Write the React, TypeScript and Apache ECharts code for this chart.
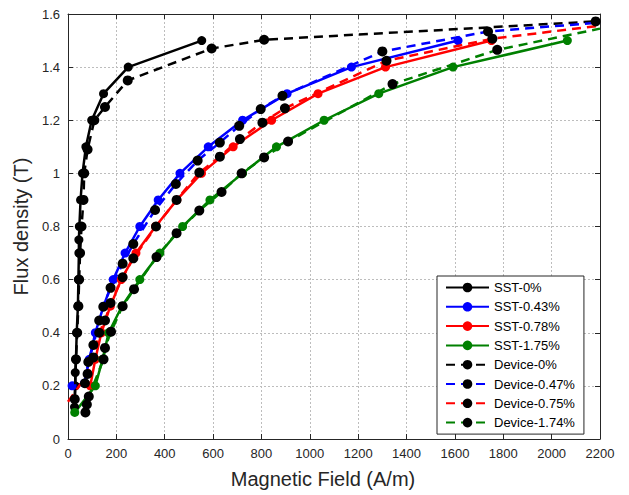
import React, { useEffect, useRef } from "react";
import * as echarts from "echarts";

// ---- data (H in A/m, B in T) ----
const sst0H = [27, 30, 30, 33, 36, 41, 43, 45, 45, 47, 52, 60, 74, 98, 147, 249, 553];
const sst0B = [0.12, 0.2, 0.25, 0.3, 0.4, 0.5, 0.6, 0.7, 0.75, 0.8, 0.9, 1.0, 1.1, 1.2, 1.3, 1.4, 1.5];

const sst043H = [17, 68, 88, 113, 147, 187, 236, 297, 373, 463, 580, 722, 906, 1172, 1613];
const sst043B = [0.2, 0.21, 0.3, 0.4, 0.5, 0.6, 0.7, 0.8, 0.9, 1.0, 1.1, 1.2, 1.3, 1.4, 1.5];

const sst078H = [92, 113, 138, 175, 220, 281, 362, 450, 552, 683, 842, 1034, 1313, 1751];
const sst078B = [0.2, 0.3, 0.4, 0.5, 0.6, 0.7, 0.8, 0.9, 1.0, 1.1, 1.2, 1.3, 1.4, 1.5];

const sst175H = [28, 113, 143, 168, 223, 297, 380, 474, 587, 722, 862, 1059, 1285, 1592, 2065];
const sst175B = [0.1, 0.2, 0.3, 0.4, 0.5, 0.6, 0.7, 0.8, 0.9, 1.0, 1.1, 1.2, 1.3, 1.4, 1.5];

const dev0H = [28, 33, 38, 43, 46, 50, 56, 64, 67, 81, 109, 153, 247, 594, 811, 2182];
const dev0B = [0.15, 0.3, 0.4, 0.5, 0.6, 0.7, 0.8, 0.9, 1.0, 1.09, 1.2, 1.25, 1.35, 1.47, 1.503, 1.572];

const dev047H = [70, 84, 105, 129, 146, 176, 226, 270, 360, 446, 536, 628, 708, 797, 887, 1300, 1737];
const dev047B = [0.21, 0.29, 0.354, 0.446, 0.498, 0.569, 0.66, 0.734, 0.862, 0.96, 1.048, 1.116, 1.179, 1.242, 1.292, 1.459, 1.534];
const dev047FitEnd = [2200, 1.568];

const dev075H = [81, 105, 129, 153, 176, 226, 270, 364, 449, 543, 628, 711, 804, 897, 1317, 1755];
const dev075B = [0.245, 0.307, 0.4, 0.446, 0.512, 0.609, 0.68, 0.8, 0.9, 1.003, 1.063, 1.129, 1.191, 1.245, 1.424, 1.507];
const dev075FitStart = [0, 0.14];
const dev075FitEnd = [2200, 1.556];

const dev174H = [72, 78, 86, 147, 153, 178, 226, 273, 366, 449, 543, 635, 718, 811, 910, 1342, 1775];
const dev174B = [0.1, 0.13, 0.16, 0.3, 0.343, 0.404, 0.5, 0.564, 0.685, 0.775, 0.86, 0.93, 1.0, 1.06, 1.12, 1.336, 1.465];
const dev174FitEnd = [2200, 1.545];

const seriesNames = [
  "SST-0%",
  "SST-0.43%",
  "SST-0.78%",
  "SST-1.75%",
  "Device-0%",
  "Device-0.47%",
  "Device-0.75%",
  "Device-1.74%",
];

const xMin = 0, xMax = 2200, xStep = 200;
const yMin = 0, yMax = 1.6, yStep = 0.2;

function pts(h: number[], b: number[]) {
  return h.map((x, i) => [x, b[i]]);
}
function fitPoint(p: number[]) {
  return { value: p, symbol: "none" };
}

const FONT = "Liberation Sans, Arial, Helvetica, sans-serif";
const AX = "#262626";

export default function App() {
  const ref = useRef<HTMLDivElement>(null);
  useEffect(() => {
    document.body.style.margin = "0";
    const chart = echarts.init(ref.current!, null, { renderer: "svg" });

    const solid = (name: string, color: string, data: any[]) => ({
      type: "line",
      name,
      data,
      symbol: "circle",
      symbolSize: 9,
      lineStyle: { color, width: 2.5 },
      itemStyle: { color },
      z: 2,
    });
    const dashed = (name: string, color: string, data: any[]) => ({
      type: "line",
      name,
      data,
      symbol: "circle",
      symbolSize: 10,
      lineStyle: { color, width: 2.5, type: [9, 6] },
      itemStyle: { color: "#000" },
      z: 3,
    });

    const baseX = {
      type: "value",
      min: xMin,
      max: xMax,
      interval: xStep,
    };
    const baseY = {
      type: "value",
      min: yMin,
      max: yMax,
      interval: yStep,
    };

    chart.setOption({
      animation: false,
      textStyle: { fontFamily: FONT },
      grid: { left: 68, top: 14, right: 29, bottom: 56, containLabel: false },
      xAxis: [
        {
          ...baseX,
          position: "bottom",
          name: "Magnetic Field (A/m)",
          nameLocation: "middle",
          nameGap: 30,
          nameTextStyle: { fontSize: 20, color: AX, fontFamily: FONT, padding: [0, 22, 0, 0] },
          axisLine: { show: true, onZero: false, lineStyle: { color: AX, width: 1 } },
          axisTick: { show: true, inside: true, length: 5, lineStyle: { color: AX } },
          axisLabel: {
            fontSize: 13,
            color: AX,
            margin: 8,
            fontFamily: FONT,
            formatter: (v: number) => String(v),
          },
          splitLine: { show: true, lineStyle: { color: "#bdbdbd", type: [2, 2], width: 1 } },
        },
        {
          ...baseX,
          position: "top",
          axisLine: { show: true, onZero: false, lineStyle: { color: AX, width: 1 } },
          axisTick: { show: true, inside: true, length: 5, lineStyle: { color: AX } },
          axisLabel: { show: false },
          splitLine: { show: false },
        },
      ],
      yAxis: [
        {
          ...baseY,
          position: "left",
          name: "Flux density (T)",
          nameLocation: "middle",
          nameGap: 32,
          nameRotate: 90,
          nameTextStyle: { fontSize: 20, color: AX, fontFamily: FONT },
          axisLine: { show: true, onZero: false, lineStyle: { color: AX, width: 1 } },
          axisTick: { show: true, inside: true, length: 5, lineStyle: { color: AX } },
          axisLabel: { fontSize: 13, color: AX, margin: 8, fontFamily: FONT },
          splitLine: { show: true, lineStyle: { color: "#bdbdbd", type: [2, 2], width: 1 } },
        },
        {
          ...baseY,
          position: "right",
          axisLine: { show: true, onZero: false, lineStyle: { color: AX, width: 1 } },
          axisTick: { show: true, inside: true, length: 5, lineStyle: { color: AX } },
          axisLabel: { show: false },
          splitLine: { show: false },
        },
      ],
      legend: {
        orient: "vertical",
        left: 437,
        top: 276,
        backgroundColor: "#fff",
        borderColor: AX,
        borderWidth: 1,
        borderRadius: 0,
        padding: [5, 9, 5, 8],
        itemWidth: 43,
        itemHeight: 12,
        itemGap: 6.3,
        textStyle: { fontSize: 13, color: "#000", lineHeight: 12, fontFamily: FONT },
        data: seriesNames,
      },
      series: [
        solid(seriesNames[0], "#000000", pts(sst0H, sst0B)),
        solid(seriesNames[1], "#0000ff", pts(sst043H, sst043B)),
        solid(seriesNames[2], "#ff0000", pts(sst078H, sst078B)),
        solid(seriesNames[3], "#008000", pts(sst175H, sst175B)),
        dashed(seriesNames[4], "#000000", pts(dev0H, dev0B)),
        dashed(seriesNames[5], "#0000ff", [...pts(dev047H, dev047B), fitPoint(dev047FitEnd)]),
        dashed(seriesNames[6], "#ff0000", [fitPoint(dev075FitStart), ...pts(dev075H, dev075B), fitPoint(dev075FitEnd)]),
        dashed(seriesNames[7], "#008000", [...pts(dev174H, dev174B), fitPoint(dev174FitEnd)]),
      ],
    });
    return () => chart.dispose();
  }, []);
  return <div ref={ref} style={{ width: 629, height: 495 }} />;
}
